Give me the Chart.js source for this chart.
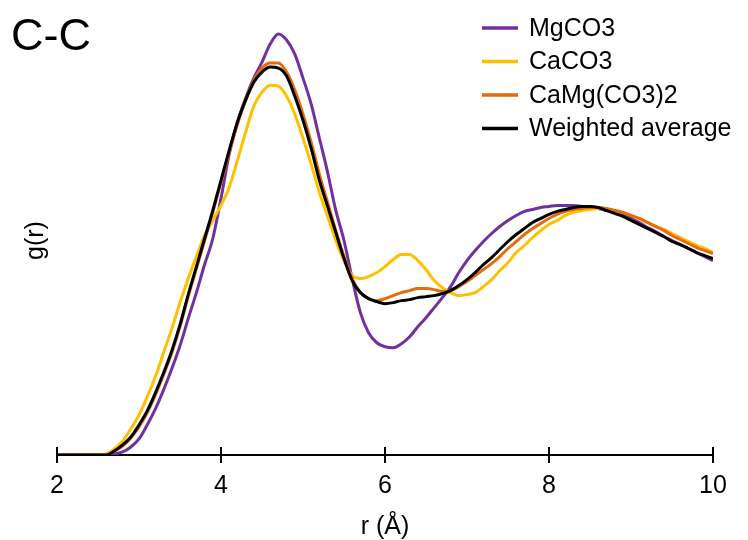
<!DOCTYPE html>
<html>
<head>
<meta charset="utf-8">
<title>C-C g(r)</title>
<script src="https://cdn.jsdelivr.net/npm/chart.js@4.4.1/dist/chart.umd.min.js"></script>
<style>
  html, body { margin: 0; padding: 0; background: #fff; }
  #wrap { width: 748px; height: 540px; }
</style>
</head>
<body>
<div id="wrap"><canvas id="chart"></canvas></div>
<script>
const rValues = [
  2.0, 2.1, 2.2, 2.3, 2.4, 2.5, 2.6, 2.7, 2.8, 2.9,
  3.0, 3.1, 3.2, 3.3, 3.4, 3.5, 3.6, 3.7, 3.8, 3.9,
  4.0, 4.1, 4.2, 4.3, 4.4, 4.5, 4.6, 4.7, 4.8, 4.9,
  5.0, 5.1, 5.2, 5.3, 5.4, 5.5, 5.6, 5.7, 5.8, 5.9,
  6.0, 6.1, 6.2, 6.3, 6.4, 6.5, 6.6, 6.7, 6.8, 6.9,
  7.0, 7.1, 7.2, 7.3, 7.4, 7.5, 7.6, 7.7, 7.8, 7.9,
  8.0, 8.1, 8.2, 8.3, 8.4, 8.5, 8.6, 8.7, 8.8, 8.9,
  9.0, 9.1, 9.2, 9.3, 9.4, 9.5, 9.6, 9.7, 9.8, 9.9,
  10.0
];

const mgco3 = [
  0, 0, 0, 0, 0, 0, 0, 0.005, 0.015, 0.04,
  0.08, 0.15, 0.23, 0.325, 0.43, 0.545, 0.68, 0.81, 0.95, 1.08,
  1.28, 1.5, 1.66, 1.78, 1.88, 1.96, 2.05, 2.1, 2.07, 2.0,
  1.88, 1.75, 1.58, 1.41, 1.22, 1.07, 0.88, 0.71, 0.61, 0.56,
  0.54, 0.535, 0.555, 0.59, 0.64, 0.685, 0.735, 0.785, 0.84, 0.91,
  0.97, 1.02, 1.065, 1.105, 1.14, 1.17, 1.195, 1.215, 1.225, 1.235,
  1.24, 1.245, 1.245, 1.245, 1.24, 1.235, 1.23, 1.22, 1.21, 1.2,
  1.18, 1.16, 1.135, 1.115, 1.09, 1.07, 1.05, 1.03, 1.01, 0.99,
  0.97
];

const caco3 = [
  0, 0, 0, 0, 0, 0, 0.005, 0.03, 0.07, 0.13,
  0.2, 0.29, 0.39, 0.51, 0.63, 0.76, 0.88, 0.99, 1.095, 1.17,
  1.245, 1.335, 1.47, 1.61, 1.74, 1.81, 1.845, 1.84, 1.79, 1.7,
  1.58, 1.45, 1.31, 1.19, 1.07, 0.97, 0.895, 0.88, 0.89, 0.91,
  0.94, 0.975, 1.0, 1.0, 0.97, 0.925, 0.87, 0.835, 0.81, 0.795,
  0.8, 0.81, 0.84, 0.875, 0.92, 0.96, 1.01, 1.045, 1.085, 1.12,
  1.15, 1.17, 1.195, 1.21, 1.22, 1.225, 1.23, 1.225, 1.22, 1.21,
  1.195, 1.18, 1.16, 1.14, 1.125, 1.105, 1.085, 1.065, 1.045, 1.03,
  1.01
];

const camgco32 = [
  0, 0, 0, 0, 0, 0, 0, 0.02, 0.045, 0.085,
  0.14, 0.21, 0.3, 0.4, 0.51, 0.64, 0.79, 0.93, 1.07, 1.21,
  1.36, 1.51, 1.65, 1.77, 1.87, 1.93, 1.955, 1.955, 1.91, 1.82,
  1.7, 1.56, 1.4, 1.26, 1.12, 0.99, 0.88, 0.81, 0.78, 0.77,
  0.78, 0.795, 0.81, 0.82, 0.83, 0.83, 0.825, 0.815, 0.82, 0.84,
  0.865, 0.895, 0.925, 0.955, 0.99, 1.03, 1.065, 1.1, 1.13, 1.155,
  1.18, 1.2, 1.215, 1.225, 1.23, 1.235, 1.235, 1.23, 1.22, 1.21,
  1.195, 1.18, 1.16, 1.14, 1.12, 1.095, 1.075, 1.055, 1.035, 1.02,
  1.005
];

const weighted = [
  0, 0, 0, 0, 0, 0, 0, 0.02, 0.05, 0.09,
  0.15, 0.22, 0.31, 0.41, 0.52, 0.65, 0.8, 0.94, 1.08, 1.22,
  1.37, 1.52, 1.66, 1.77, 1.86, 1.91, 1.935, 1.93, 1.89, 1.79,
  1.67, 1.53, 1.37, 1.24, 1.11, 0.98, 0.87, 0.81, 0.78, 0.765,
  0.755, 0.76, 0.77, 0.775, 0.785, 0.79, 0.795, 0.805, 0.82, 0.845,
  0.875, 0.91, 0.95, 0.985, 1.025, 1.065, 1.1, 1.13, 1.16, 1.18,
  1.2, 1.215, 1.225, 1.235, 1.24, 1.24, 1.235, 1.22, 1.205, 1.19,
  1.17, 1.15, 1.13, 1.11, 1.09, 1.065, 1.05, 1.03, 1.01, 0.995,
  0.98
];

const xTicks = [2, 4, 6, 8, 10];

const FONT = 'Arial, "Liberation Sans", sans-serif';

function toPoints(values) {
  return values.map((v, i) => ({ x: rValues[i], y: v }));
}

// panel label + legend in the upper corners, and tick marks crossing the axis line
const decorations = {
  id: 'decorations',
  afterDraw(chart) {
    const ctx = chart.ctx;
    const xScale = chart.scales.x;
    const axisY = chart.chartArea.bottom;

    ctx.save();
    ctx.strokeStyle = '#000';
    ctx.lineWidth = 2;
    xScale.ticks.forEach((t, i) => {
      const px = Math.round(xScale.getPixelForTick(i));
      ctx.beginPath();
      ctx.moveTo(px, axisY - 8);
      ctx.lineTo(px, axisY);
      ctx.stroke();
    });

    // "C-C" panel label
    ctx.fillStyle = '#000';
    ctx.font = '45px ' + FONT;
    ctx.textBaseline = 'alphabetic';
    ctx.textAlign = 'left';
    ctx.fillText('C-C', 11, 50);

    // legend
    ctx.font = '25px ' + FONT;
    ctx.textBaseline = 'middle';
    chart.data.datasets.forEach((ds, i) => {
      const y = 28 + i * 33.5;
      ctx.strokeStyle = ds.borderColor;
      ctx.lineWidth = 3.5;
      ctx.beginPath();
      ctx.moveTo(482, y);
      ctx.lineTo(518, y);
      ctx.stroke();
      ctx.fillStyle = '#000';
      ctx.fillText(ds.label, 529, y + 1);
    });
    ctx.restore();
  }
};

new Chart(document.getElementById('chart'), {
  type: 'line',
  data: {
    datasets: [
      { label: 'MgCO3', data: toPoints(mgco3), borderColor: '#7030A0', order: 4 },
      { label: 'CaCO3', data: toPoints(caco3), borderColor: '#FFC000', order: 3 },
      { label: 'CaMg(CO3)2', data: toPoints(camgco32), borderColor: '#E46C0A', order: 2 },
      { label: 'Weighted average', data: toPoints(weighted), borderColor: '#000000', order: 1 }
    ]
  },
  options: {
    responsive: true,
    maintainAspectRatio: false,
    animation: false,
    layout: { padding: { left: 10, right: 35, top: 26, bottom: 0 } },
    elements: {
      point: { radius: 0 },
      line: { borderWidth: 3, cubicInterpolationMode: 'monotone', fill: false }
    },
    plugins: {
      legend: { display: false },
      tooltip: { enabled: false }
    },
    scales: {
      x: {
        type: 'linear',
        min: 2,
        max: 10,
        afterBuildTicks: (scale) => { scale.ticks = xTicks.map(v => ({ value: v })); },
        border: { display: true, color: '#000', width: 2 },
        grid: { drawOnChartArea: false, drawTicks: true, tickLength: 8, color: '#000', lineWidth: 2 },
        ticks: { color: '#000', font: { family: FONT, size: 25, lineHeight: 1.0 }, padding: 11, maxRotation: 0 },
        title: { display: true, text: 'r (Å)', color: '#000', font: { family: FONT, size: 25, lineHeight: 1.0 }, padding: { top: 5, bottom: 0 } }
      },
      y: {
        min: 0,
        max: 2.14,
        border: { display: false },
        grid: { display: false, drawTicks: false },
        ticks: { display: false },
        title: { display: true, text: 'g(r)', color: '#000', font: { family: FONT, size: 25 }, padding: { top: 11, bottom: 6 } }
      }
    }
  },
  plugins: [decorations]
});
</script>
</body>
</html>
